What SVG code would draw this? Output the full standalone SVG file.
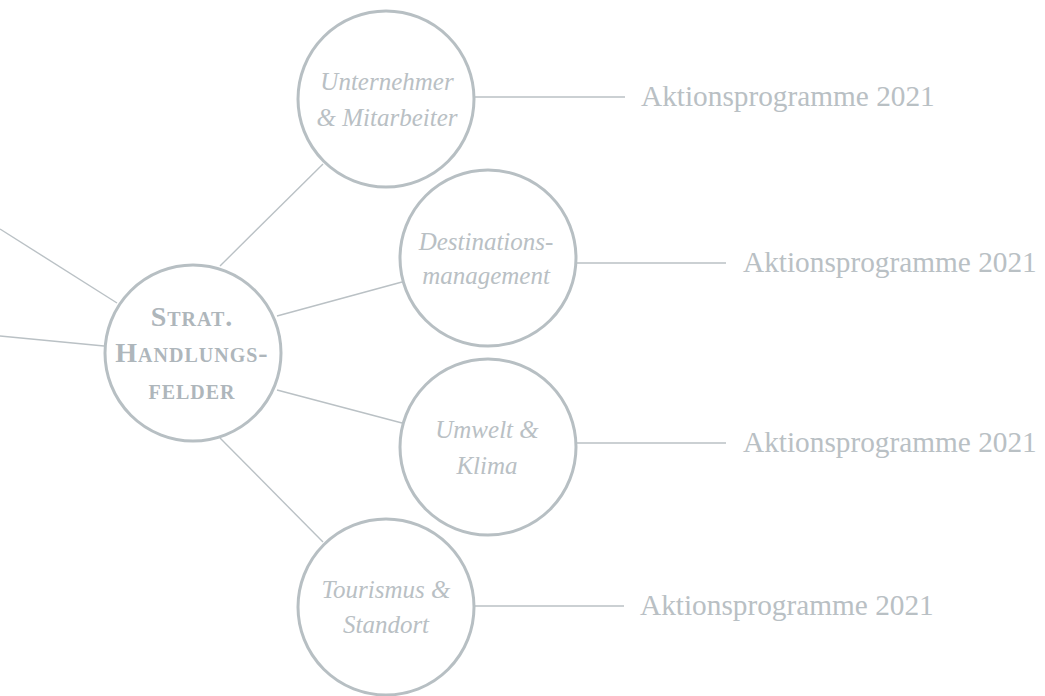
<svg xmlns="http://www.w3.org/2000/svg" width="1045" height="696" viewBox="0 0 1045 696">
<style>
.node{fill:#ffffff;stroke:#b7bfc3;stroke-width:3}
.edge{stroke:#bac1c5;stroke-width:1.4;fill:none}
.lab{font-family:"Liberation Serif","Times New Roman",serif;font-style:italic;font-size:25px;fill:#b9c0c4;text-anchor:middle}
.act{font-family:"Liberation Serif","Times New Roman",serif;font-size:29.3px;fill:#b9c0c4}
.hub{font-family:"Liberation Serif","Times New Roman",serif;font-weight:bold;font-size:28px;font-variant:small-caps;letter-spacing:1px;fill:#aeb6bb;text-anchor:middle}
</style>
<rect width="1045" height="696" fill="#ffffff"/>
<g id="connectors">
<line class="edge" x1="0" y1="229" x2="117" y2="303"/>
<line class="edge" x1="0" y1="336" x2="104" y2="346"/>
<line class="edge" x1="220" y1="266" x2="323" y2="164"/>
<line class="edge" x1="277" y1="316" x2="402" y2="282"/>
<line class="edge" x1="277" y1="390" x2="402" y2="423"/>
<line class="edge" x1="220" y1="438" x2="323" y2="542"/>
<line class="edge" x1="475" y1="97" x2="625" y2="97"/>
<line class="edge" x1="576" y1="263" x2="726" y2="263"/>
<line class="edge" x1="576" y1="443" x2="726" y2="443"/>
<line class="edge" x1="475" y1="606" x2="624" y2="606"/>
</g>
<g id="hub">
<circle class="node" cx="193" cy="353" r="88"/>
<text class="hub" x="192" y="326">Strat.</text>
<text class="hub" x="192" y="362">Handlungs-</text>
<text class="hub" x="192" y="399">felder</text>
</g>
<g id="n-unternehmer">
<circle class="node" cx="386" cy="99" r="88"/>
<text class="lab" x="387" y="90">Unternehmer</text>
<text class="lab" x="387" y="126">&amp; Mitarbeiter</text>
</g>
<g id="n-destinations">
<circle class="node" cx="488" cy="258" r="88"/>
<text class="lab" x="486" y="250">Destinations-</text>
<text class="lab" x="486" y="284">management</text>
</g>
<g id="n-umwelt">
<circle class="node" cx="488" cy="447" r="88"/>
<text class="lab" x="487" y="438">Umwelt &amp;</text>
<text class="lab" x="487" y="474">Klima</text>
</g>
<g id="n-tourismus">
<circle class="node" cx="386" cy="607" r="88"/>
<text class="lab" x="386" y="598">Tourismus &amp;</text>
<text class="lab" x="386" y="633">Standort</text>
</g>
<g id="actions">
<text class="act" x="641" y="106">Aktionsprogramme 2021</text>
<text class="act" x="743" y="272">Aktionsprogramme 2021</text>
<text class="act" x="743" y="452">Aktionsprogramme 2021</text>
<text class="act" x="640" y="615">Aktionsprogramme 2021</text>
</g>
</svg>
